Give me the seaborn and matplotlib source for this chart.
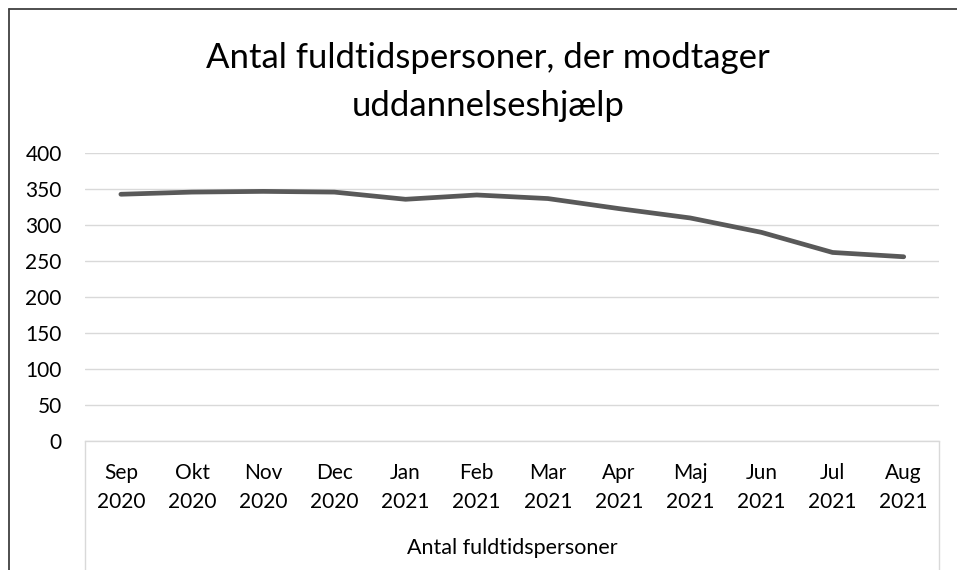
import matplotlib
matplotlib.use("Agg")
import matplotlib.pyplot as plt
from matplotlib.lines import Line2D
import seaborn as sns
import pandas as pd

# Monthly data
months = ["Sep\n2020", "Okt\n2020", "Nov\n2020", "Dec\n2020", "Jan\n2021", "Feb\n2021",
          "Mar\n2021", "Apr\n2021", "Maj\n2021", "Jun\n2021", "Jul\n2021", "Aug\n2021"]
persons = [343, 346, 347, 346, 336, 342, 337, 323, 310, 290, 262, 256]
y_ticks = [0, 50, 100, 150, 200, 250, 300, 350, 400]

title = "Antal fuldtidspersoner, der modtager\nuddannelseshjælp"
x_title = "Antal fuldtidspersoner"

sns.set_theme(style="white")
plt.rcParams["font.family"] = ["Lato", "DejaVu Sans"]

W, H = 957, 570
fig = plt.figure(figsize=(W / 100, H / 100), dpi=100)
fig.patch.set_facecolor("white")

# plot area in pixel coordinates
left_px, right_px = 85.3, 939.3
top_px, bottom_px = 153.3, 440.7
ax = fig.add_axes([left_px / W, 1 - bottom_px / H,
                   (right_px - left_px) / W, (bottom_px - top_px) / H])

df = pd.DataFrame({"month": months, "persons": persons})
df["pos"] = range(len(months))
sns.lineplot(data=df, x="pos", y="persons", ax=ax, color="#595959",
             linewidth=3.4, solid_capstyle="round", solid_joinstyle="round")

ax.set_xlim(-0.5, len(months) - 0.5)
ax.set_ylim(0, 400)
ax.set_yticks(y_ticks)
ax.set_yticklabels([str(v) for v in y_ticks], fontsize=15, color="#000000")
ax.set_xticks(range(len(months)))
ax.set_xticklabels(months, fontsize=15, color="#000000", linespacing=1.55)
ax.tick_params(axis="y", length=0, pad=17)
ax.tick_params(axis="x", length=0, pad=16)
ax.set_xlabel("")
ax.set_ylabel("")

ax.yaxis.grid(True, color="#d9d9d9", linewidth=1.0)
ax.set_axisbelow(True)
for side in ["left", "right", "top"]:
    ax.spines[side].set_visible(False)
ax.spines["bottom"].set_color("#d9d9d9")
ax.spines["bottom"].set_linewidth(1.0)

# category group box below the axis
for xp in (left_px, right_px):
    fig.add_artist(Line2D([xp / W, xp / W], [1 - bottom_px / H, 0],
                          color="#d9d9d9", linewidth=1.0))

fig.text(0.5 * (left_px + right_px) / W, 1 - 548 / H, x_title,
         ha="center", va="center", fontsize=15.5, color="#000000")

fig.text(488 / W, 1 - 82 / H, title, ha="center", va="center",
         fontsize=25, color="#000000", linespacing=1.62)

# outer chart frame
fig.add_artist(Line2D([9 / W, 9 / W], [0, 1 - 9 / H], color="#404040", linewidth=1.3))
fig.add_artist(Line2D([9 / W, 1], [1 - 9 / H, 1 - 9 / H], color="#404040", linewidth=1.3))

fig.savefig("out.png", dpi=100, facecolor="white")
